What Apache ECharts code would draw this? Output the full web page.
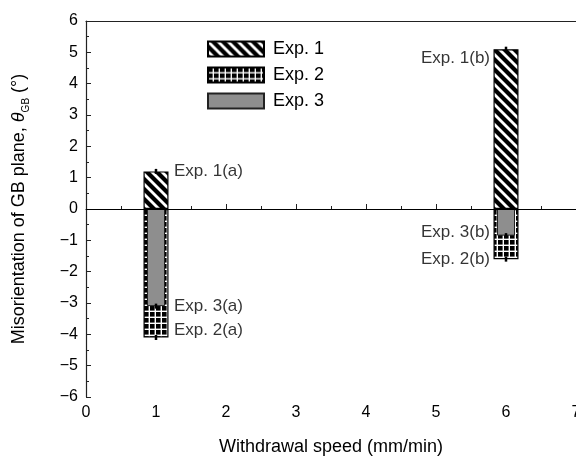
<!DOCTYPE html>
<html lang="en">
<head>
<meta charset="UTF-8">
<title>GB plane misorientation</title>
<script src="https://cdn.jsdelivr.net/npm/echarts@6/dist/echarts.min.js"></script>
<style>
  html, body { margin: 0; padding: 0; background: #fff; }
  #chart { width: 576px; height: 457px; }
</style>
</head>
<body>
<div id="chart"></div>
<script>
// data
const speeds = [1, 6];
const exp1 = [1.2, 5.1];
const exp2 = [-4.1, -1.6];
const exp3 = [-3.1, -0.85];
const errSize = 0.08;

// text labels next to the bars
const labelNames1 = ['Exp. 1(a)', 'Exp. 3(a)', 'Exp. 2(a)'];
const labelY1 = [1.2, -3.1, -3.88];
const labelNames6 = ['Exp. 1(b)', 'Exp. 3(b)', 'Exp. 2(b)'];
const labelY6 = [4.8, -0.75, -1.6];

const FONT = 'Liberation Sans, Arial, sans-serif';

// hatch fills
function stripePattern() {
    const c = document.createElement('canvas');
    c.width = c.height = 10;
    const g = c.getContext('2d');
    g.fillStyle = '#000';
    g.fillRect(0, 0, 10, 10);
    g.strokeStyle = '#fff';
    g.lineWidth = 2.8;
    for (const k of [-10, 0, 10]) {
        g.beginPath();
        g.moveTo(-2, -2 + k);
        g.lineTo(12, 12 + k);
        g.stroke();
    }
    return c;
}

function gridPattern() {
    const c = document.createElement('canvas');
    c.width = c.height = 6;
    const g = c.getContext('2d');
    g.fillStyle = '#000';
    g.fillRect(0, 0, 6, 6);
    g.fillStyle = '#fff';
    g.fillRect(4.6, 0, 1.4, 6);
    g.fillRect(0, 4.6, 6, 1.4);
    return c;
}

const errData = [];
speeds.forEach((s, i) => {
    [exp1[i], exp2[i], exp3[i]].forEach(v => errData.push([s, v - errSize, v + errSize]));
});

const fmtMinus = v => (v < 0 ? '\u2212' + (-v) : String(v));

const chart = echarts.init(document.getElementById('chart'));
chart.setOption({
    animation: false,
    textStyle: { fontFamily: FONT },
    grid: { left: 86, top: 21, right: 0, bottom: 60, outerBoundsMode: 'none', containLabel: false },
    legend: {
        data: ['Exp. 1', 'Exp. 2', 'Exp. 3'],
        orient: 'vertical',
        left: 202,
        top: 35,
        itemWidth: 56,
        itemHeight: 15,
        itemGap: 8,
        icon: 'rect',
        textStyle: { fontSize: 18, color: '#000', fontFamily: FONT, padding: [0, 0, 0, 4] }
    },
    xAxis: [{
        type: 'value', min: 0, max: 7, interval: 1,
        position: 'bottom',
        name: 'Withdrawal speed (mm/min)',
        nameLocation: 'middle',
        nameGap: 41,
        nameTextStyle: { fontSize: 18, color: '#000', fontFamily: FONT },
        axisLine: { show: true, lineStyle: { color: '#222', width: 1.2 } },
        axisTick: { show: true, inside: true, length: 5, lineStyle: { color: '#222' } },
        minorTick: { show: true, splitNumber: 2, length: 3, lineStyle: { color: '#222' } },
        axisLabel: { fontSize: 16, color: '#000', margin: 8, fontFamily: FONT },
        splitLine: { show: false }
    }, {
        type: 'value', min: 0, max: 7, interval: 1,
        position: 'top',
        axisLine: { show: true, lineStyle: { color: '#222', width: 1.2 } },
        axisTick: { show: false },
        axisLabel: { show: false },
        splitLine: { show: false }
    }],
    yAxis: {
        type: 'value', min: -6, max: 6, interval: 1,
        name: '{t|Misorientation of GB plane, }{i|θ}{s|GB}{t| (°)}',
        nameLocation: 'middle',
        nameGap: 55,
        nameRotate: 90,
        nameTextStyle: {
            color: '#000',
            rich: {
                t: { fontSize: 18, fontFamily: FONT, lineHeight: 24, color: '#000' },
                i: { fontSize: 18, fontFamily: FONT, fontStyle: 'italic', lineHeight: 24, color: '#000' },
                s: { fontSize: 10, fontFamily: FONT, lineHeight: 24, verticalAlign: 'bottom', color: '#000' }
            }
        },
        axisLine: { show: true, lineStyle: { color: '#222', width: 1.2 } },
        axisTick: { show: true, inside: true, length: 5, lineStyle: { color: '#222' } },
        minorTick: { show: true, splitNumber: 2, length: 3, lineStyle: { color: '#222' } },
        axisLabel: { fontSize: 16, color: '#000', margin: 8, formatter: fmtMinus, fontFamily: FONT },
        splitLine: { show: false }
    },
    series: [{
        name: 'Exp. 1',
        type: 'bar',
        xAxisIndex: 0,
        barWidth: 25,
        barGap: '-100%',
        itemStyle: { color: { image: stripePattern(), repeat: 'repeat' }, borderColor: '#000', borderWidth: 1.2 },
        data: speeds.map((s, i) => [s, exp1[i]]),
        markLine: {
            silent: true,
            symbol: 'none',
            label: { show: false },
            lineStyle: { color: '#000', type: 'solid', width: 1 },
            data: [{ yAxis: 0 }]
        }
    }, {
        name: 'Exp. 2',
        type: 'bar',
        xAxisIndex: 0,
        barWidth: 25,
        barGap: '-100%',
        itemStyle: { color: { image: gridPattern(), repeat: 'repeat' }, borderColor: '#000', borderWidth: 1.2 },
        data: speeds.map((s, i) => [s, exp2[i]])
    }, {
        name: 'Exp. 3',
        type: 'bar',
        xAxisIndex: 1,
        barWidth: 18,
        itemStyle: { color: '#8e8e8e', borderColor: '#222', borderWidth: 1 },
        data: speeds.map((s, i) => [s, exp3[i]])
    }, {
        name: 'err',
        type: 'custom',
        xAxisIndex: 0,
        z: 5,
        renderItem: (params, api) => {
            const p1 = api.coord([api.value(0), api.value(1)]);
            const p2 = api.coord([api.value(0), api.value(2)]);
            return {
                type: 'line',
                shape: { x1: p1[0], y1: p1[1], x2: p2[0], y2: p2[1] },
                style: { stroke: '#000', lineWidth: 2.5 }
            };
        },
        data: errData
    }, {
        name: 'labels1',
        type: 'scatter',
        xAxisIndex: 0,
        symbolSize: 0,
        silent: true,
        label: {
            show: true, position: 'right', distance: 18,
            fontSize: 17, color: '#000', fontFamily: FONT,
            formatter: p => labelNames1[p.dataIndex]
        },
        data: labelY1.map(v => [speeds[0], v])
    }, {
        name: 'labels6',
        type: 'scatter',
        xAxisIndex: 0,
        symbolSize: 0,
        silent: true,
        label: {
            show: true, position: 'left', distance: 16,
            fontSize: 17, color: '#000', fontFamily: FONT,
            formatter: p => labelNames6[p.dataIndex]
        },
        data: labelY6.map(v => [speeds[1], v])
    }]
});
</script>
</body>
</html>
